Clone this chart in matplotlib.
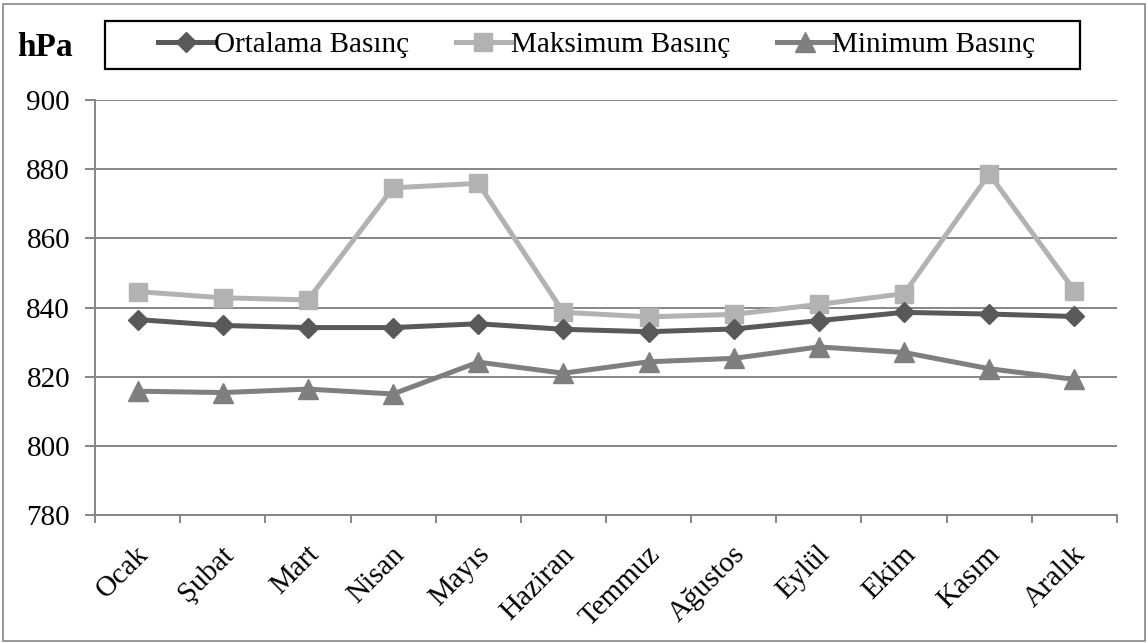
import matplotlib
matplotlib.use("Agg")
import matplotlib.pyplot as plt
from matplotlib.patches import Rectangle
import matplotlib.transforms as mtransforms
import numpy as np

months = ["Ocak", "Şubat", "Mart", "Nisan", "Mayıs", "Haziran", "Temmuz",
          "Ağustos", "Eylül", "Ekim", "Kasım", "Aralık"]
ortalama = [836.5, 834.8, 834.2, 834.2, 835.3, 833.7, 833.0, 833.8, 836.2, 838.6, 838.1, 837.4]
maksimum = [844.6, 842.8, 842.2, 874.6, 875.9, 838.6, 837.3, 838.0, 840.9, 844.0, 878.6, 844.9]
minimum = [815.8, 815.4, 816.4, 815.0, 824.2, 821.0, 824.3, 825.3, 828.6, 827.0, 822.3, 819.2]
yticks = [780, 800, 820, 840, 860, 880, 900]

plt.rcParams['font.family'] = ['Liberation Serif', 'DejaVu Serif']

W, H = 1148, 643
fig = plt.figure(figsize=(W / 100, H / 100), dpi=100)
ax = fig.add_axes([95 / W, 1 - 515 / H, (1117 - 95) / W, (515 - 100) / H])

x = np.arange(len(months)) + 0.5
c_ort, c_max, c_min = "#595959", "#b2b2b2", "#7f7f7f"
ax.plot(x, ortalama, color=c_ort, lw=3.6, marker="D", ms=10, label="Ortalama Basınç", zorder=4)
ax.plot(x, maksimum, color=c_max, lw=3.6, marker="s", ms=13, label="Maksimum Basınç", zorder=3)
ax.plot(x, minimum, color=c_min, lw=3.6, marker="^", ms=14, label="Minimum Basınç", zorder=3)

ax.set_xlim(0, len(months))
ax.set_ylim(780, 900)
ax.set_yticks(yticks)
ax.set_yticklabels([str(v) for v in yticks], fontsize=21)
ax.yaxis.grid(True, color="#868686", lw=1.4)
ax.set_axisbelow(True)
ax.tick_params(axis="y", length=7, width=1.4, color="#868686", pad=11)

ax.set_xticks(np.arange(len(months) + 1))
ax.set_xticklabels([])
ax.tick_params(axis="x", which="major", length=6, width=1.4, color="#868686")
ax.set_xticks(x, minor=True)
ax.set_xticklabels(months, minor=True, rotation=45, ha="right", va="top",
                   rotation_mode="anchor", fontsize=21)
ax.tick_params(axis="x", which="minor", length=0, pad=19)
for lbl in ax.get_xticklabels(minor=True):
    lbl.set_transform(lbl.get_transform() + mtransforms.ScaledTranslation(-2 / 100, 0, fig.dpi_scale_trans))

for s in ["top", "right"]:
    ax.spines[s].set_visible(False)
for s in ["left", "bottom"]:
    ax.spines[s].set_color("#868686")
    ax.spines[s].set_linewidth(1.4)

fig.text(17 / W, 1 - 47 / H, "hPa", fontsize=24, fontweight="bold", va="center", ha="left")

# legend box drawn separately so its padding can match the reference
fig.patches.append(Rectangle((105 / W, 1 - 69 / H), (1080 - 105) / W, (69 - 21) / H,
                             transform=fig.transFigure, fill=False, edgecolor="black", lw=1.6))
leg = fig.legend(loc="center", bbox_to_anchor=((152 + 1042) / 2 / W, 1 - 45 / H),
                 ncol=3, fontsize=21, frameon=False,
                 handlelength=1.9, handletextpad=0.0, columnspacing=1.6, borderpad=0.3)

fig.patches.append(Rectangle((3 / W, 2 / H), (1145 - 3) / W, (641 - 4) / H, transform=fig.transFigure,
                             fill=False, edgecolor="#868686", lw=1.2))

fig.savefig("out.png", dpi=100)
